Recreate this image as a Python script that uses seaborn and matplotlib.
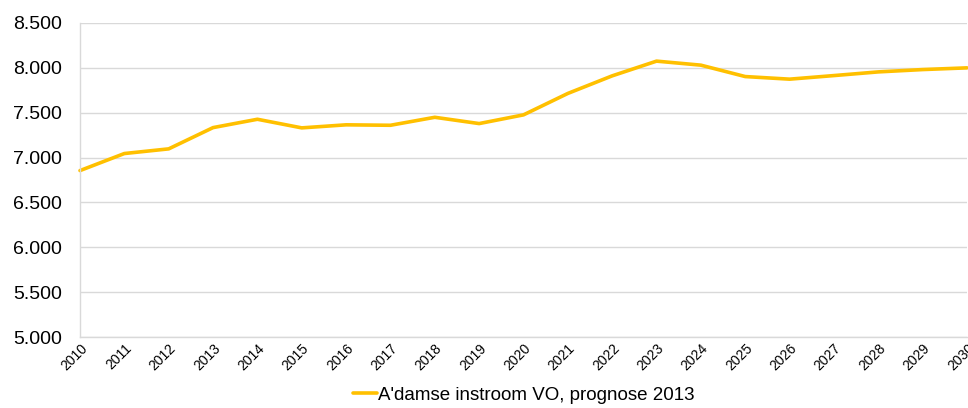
import pandas as pd
import matplotlib.pyplot as plt
import matplotlib.ticker as mticker
import seaborn as sns

# values
years = list(range(2010, 2031))
instroom = [6855, 7045, 7097, 7334, 7427, 7331, 7365, 7360, 7449, 7379, 7476,
            7715, 7911, 8075, 8030, 7903, 7874, 7914, 7955, 7981, 8000]
series_name = "A'damse instroom VO, prognose 2013"

data = pd.DataFrame({"jaar": years, "instroom": instroom, "reeks": series_name})

sns.set_style("white")
plt.rcParams["font.family"] = ["Liberation Sans", "DejaVu Sans"]
plt.rcParams["text.color"] = "black"
plt.rcParams["xtick.color"] = "black"
plt.rcParams["ytick.color"] = "black"

fig = plt.figure(figsize=(9.68, 4.08), dpi=100)
ax = fig.add_axes([80 / 968, 1 - 337 / 408, 887 / 968, 314 / 408])

sns.lineplot(data=data, x="jaar", y="instroom", hue="reeks",
             palette=["#FFC000"], linewidth=2.6, ax=ax, clip_on=False)

ax.set_xlim(2010, 2030)
ax.set_ylim(5000, 8500)
ax.set_yticks(range(5000, 8501, 500))
ax.yaxis.set_major_formatter(mticker.FuncFormatter(lambda v, p: f"{int(v):,}".replace(",", ".")))
ax.set_xticks(years)
ax.set_xticklabels([str(y) for y in years], rotation=45, ha="right",
                   rotation_mode="anchor", fontsize=10)
ax.tick_params(axis="y", labelsize=14, length=0, pad=13)
ax.tick_params(axis="x", length=0, pad=3)
ax.grid(axis="y", color="#d9d9d9", linewidth=1)
ax.set_axisbelow(True)
for s in ["top", "right"]:
    ax.spines[s].set_visible(False)
for s in ["left", "bottom"]:
    ax.spines[s].set_color("#d9d9d9")
    ax.spines[s].set_linewidth(1)
ax.set_xlabel("")
ax.set_ylabel("")

ax.legend(loc="center", bbox_to_anchor=(0.5, -0.185), bbox_transform=ax.transAxes,
          frameon=False, fontsize=13.5, handlelength=1.3, handletextpad=0.05)

plt.savefig("out.png", dpi=100)
